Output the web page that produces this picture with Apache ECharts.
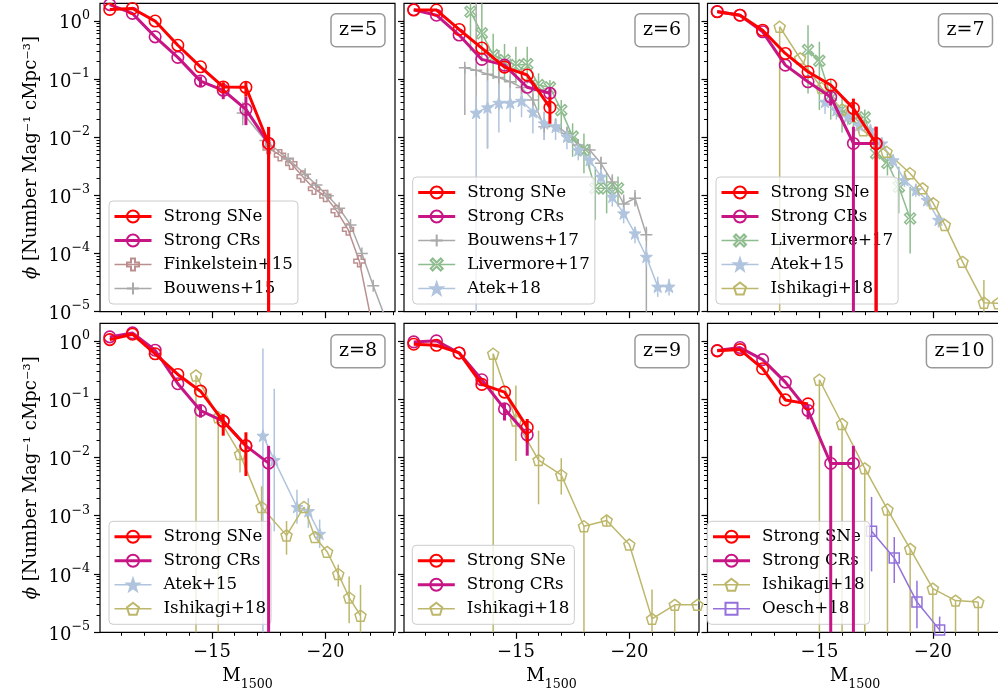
<!DOCTYPE html>
<html><head><meta charset="utf-8">
<script src="https://cdn.jsdelivr.net/npm/echarts@6/dist/echarts.min.js"></script>
<style>html,body{margin:0;padding:0;background:#fff}#c{width:998px;height:693px}</style>
</head><body><div id="c"></div>
<script>
// ---------------- DATA ----------------
// points: [M1500, phi]; errors: [M1500, low, high]
const xTickMajor = [-20, -15];
const xTickMinor = [-23, -22, -21, -19, -18, -17, -16, -14, -13, -12, -11];
const yDecades = [-5, -4, -3, -2, -1, 0];
const panelLabels = ['z=5', 'z=6', 'z=7', 'z=8', 'z=9', 'z=10'];

// z = 5
const z5_sne = [[-10.5,1.57],[-11.5,1.63],[-12.5,0.99],[-13.5,0.38],[-14.5,0.162],[-15.5,0.073],[-16.5,0.072],[-17.5,0.0078]];
const z5_sne_err = [[-15.5,0.058,0.088],[-16.5,0.05,0.09],[-17.5,1e-6,0.015]];
const z5_cr = [[-10.5,1.9],[-11.5,1.34],[-12.5,0.53],[-13.5,0.235],[-14.5,0.092],[-15.5,0.064],[-16.5,0.030],[-17.5,0.0078]];
const z5_cr_err = [[-14.5,0.075,0.11],[-15.5,0.045,0.085],[-16.5,0.0161,0.05],[-17.5,1e-6,0.015]];
const z5_fink15 = [[-17.5,0.0065],[-18.0,0.0049],[-18.5,0.0035],[-19.0,0.0021],[-19.5,0.0013],[-20.0,0.00097],[-20.5,0.00054],[-21.0,0.00026],[-21.5,7.4e-5],[-22.0,8e-6]];
const z5_bouw15 = [[-16.36,0.026],[-17.36,0.0088],[-18.36,0.0042],[-19.11,0.0023],[-19.61,0.0015],[-20.11,0.00098],[-20.61,0.0006],[-21.11,0.00031],[-21.61,0.0001],[-22.11,2.8e-5],[-22.61,8.5e-6]];
const z5_bouw15_err = [[-16.36,0.016,0.04]];

// z = 6
const z6_sne = [[-10.5,1.53],[-11.5,1.53],[-12.5,0.71],[-13.5,0.34],[-14.5,0.16],[-15.5,0.117],[-16.5,0.0325]];
const z6_sne_err = [[-16.5,0.017,0.049]];
const z6_cr = [[-10.5,1.55],[-11.5,1.25],[-12.5,0.57],[-13.5,0.217],[-14.5,0.173],[-15.5,0.072],[-16.5,0.057]];
const z6_cr_err = [[-16.5,0.045,0.072]];
const z6_bouw17 = [[-12.75,0.156],[-13.25,0.142],[-13.75,0.121],[-14.25,0.106],[-14.75,0.0895],[-15.25,0.0716],[-15.75,0.0434],[-16.25,0.0151],[-16.75,0.0161],[-17.25,0.0116],[-17.75,0.0073],[-18.25,0.006],[-18.75,0.00355],[-19.25,0.0017],[-19.75,0.00071],[-20.25,0.00089],[-20.75,0.00021]];
const z6_bouw17_err = [[-12.75,0.024,0.173],[-13.25,0.0256,3],[-13.75,0.0064,0.41],[-14.25,0.0292,0.314],[-14.75,0.0434,0.226],[-15.25,0.038,0.162],[-15.75,0.0256,0.0688],[-16.25,0.0089,0.0274],[-16.75,0.0124,0.021],[-17.25,0.0089,0.0151],[-17.75,0.0056,0.0089],[-18.25,0.0049,0.0074],[-18.75,0.00272,0.0046],[-19.25,0.00123,0.0023],[-19.75,0.000458,0.00103],[-20.25,0.00064,0.00123],[-20.75,1e-6,0.000289]];
const z6_liv17 = [[-13.0,1.43],[-13.5,0.61],[-14.0,0.257],[-14.5,0.211],[-15.0,0.173],[-15.5,0.18],[-16.0,0.0786],[-16.5,0.0716],[-17.0,0.0292],[-17.5,0.0102],[-18.0,0.006],[-18.5,0.00132],[-19.0,0.00132],[-19.5,0.00132]];
const z6_liv17_err = [[-13.0,0.3,3],[-13.5,0.2,3],[-14.0,0.1,0.6],[-14.5,0.09,0.4],[-15.0,0.084,0.36],[-15.5,0.084,0.36],[-16.0,0.0292,0.125],[-16.5,0.0434,0.0957],[-17.0,0.0116,0.0434],[-17.5,0.0046,0.0173],[-18.0,0.0024,0.0116],[-18.5,0.00038,0.0031],[-19.0,0.00049,0.0024],[-19.5,0.00064,0.0021]];
const z6_atek18 = [[-13.25,0.0263],[-13.75,0.0325],[-14.25,0.039],[-14.75,0.039],[-15.25,0.0422],[-15.75,0.0273],[-16.25,0.0173],[-16.75,0.0151],[-17.25,0.0102],[-17.75,0.006],[-18.25,0.00404],[-18.75,0.0021],[-19.25,0.00095],[-19.75,0.00049],[-20.25,0.000222],[-20.75,8.8e-5],[-21.25,2.7e-5],[-21.75,2.7e-5]];
const z6_atek18_err = [[-13.25,1e-6,0.0495],[-13.75,0.0064,0.0957],[-14.25,0.012,0.085],[-14.75,0.018,0.084],[-15.25,0.022,0.084],[-15.75,0.0116,0.0434],[-16.25,0.0089,0.0274],[-16.75,0.0089,0.021],[-17.25,0.0062,0.0151],[-17.75,0.004,0.0089],[-18.25,0.0027,0.0058],[-18.75,0.0015,0.003],[-19.25,0.00064,0.00135],[-19.75,0.00033,0.00064],[-20.25,0.00015,0.00029],[-20.75,6e-5,0.000131],[-21.25,1.8e-5,4e-5],[-21.75,1.9e-5,3.7e-5]];

// z = 7
const z7_sne = [[-10.5,1.43],[-11.5,1.25],[-12.5,0.69],[-13.5,0.275],[-14.5,0.133],[-15.5,0.0786],[-16.5,0.0313],[-17.5,0.0078]];
const z7_sne_err = [[-16.5,0.0184,0.046],[-17.5,1e-6,0.0151]];
const z7_cr = [[-10.5,1.45],[-11.5,1.25],[-12.5,0.647],[-13.5,0.173],[-14.5,0.0895],[-15.5,0.049],[-16.5,0.0078],[-17.5,0.0078]];
const z7_cr_err = [[-15.5,0.035,0.065],[-16.5,1e-6,0.0151],[-17.5,1e-6,0.0151]];
const z7_liv17 = [[-14.5,0.314],[-15.0,0.206],[-15.5,0.05],[-16.0,0.028],[-16.5,0.021],[-17.0,0.0219],[-17.5,0.0053],[-18.0,0.0036],[-18.5,0.0014],[-19.0,0.0004]];
const z7_liv17_err = [[-14.5,0.0565,0.84],[-15.0,0.0292,0.436],[-15.5,0.02,0.1],[-16.0,0.012,0.05],[-16.5,0.012,0.035],[-17.0,0.013,0.03],[-17.5,0.003,0.009],[-18.0,0.0022,0.0056],[-18.5,0.00049,0.0031],[-19.0,0.0001,0.00141]];
const z7_atek15 = [[-15.25,0.0406],[-15.75,0.0292],[-16.25,0.0224],[-16.75,0.0161],[-17.25,0.0132],[-17.75,0.0078],[-18.25,0.004],[-18.75,0.00183],[-19.25,0.00123],[-19.75,0.00083],[-20.25,0.00038]];
const z7_atek15_err = [[-15.25,0.025,0.055],[-15.75,0.02,0.04],[-16.25,0.016,0.03],[-16.75,0.012,0.021],[-17.25,0.01,0.017],[-17.75,0.006,0.01],[-18.25,0.0031,0.0051],[-18.75,0.0014,0.0024],[-19.25,0.00095,0.0016],[-19.75,0.00064,0.0011],[-20.25,0.00028,0.0005]];
const z7_ishi18 = [[-13.25,0.79],[-14.15,0.226],[-15.1,0.07],[-16.0,0.03],[-16.93,0.0132],[-17.96,0.0056],[-18.99,0.0024],[-19.55,0.00132],[-20.02,0.00073],[-20.53,0.00031],[-21.31,7.2e-5],[-22.25,1.43e-5],[-22.88,1.4e-5]];
const z7_ishi18_err = [[-13.25,1e-6,0.79],[-22.25,1e-6,3.5e-5]];

// z = 8
const z8_sne = [[-10.5,1.05],[-11.5,1.3],[-12.5,0.6],[-13.5,0.265],[-14.5,0.137],[-15.5,0.0418],[-16.5,0.0158]];
const z8_sne_err = [[-15.5,0.0236,0.056],[-16.5,0.0048,0.027]];
const z8_cr = [[-10.5,1.17],[-11.5,1.37],[-12.5,0.69],[-13.5,0.184],[-14.5,0.0637],[-15.5,0.042],[-16.5,0.0158],[-17.5,0.008]];
const z8_cr_err = [[-14.5,0.048,0.08],[-17.5,1e-6,0.0158]];
const z8_atek15 = [[-17.25,0.0236],[-17.75,0.009],[-18.75,0.00141],[-19.25,0.0012],[-19.75,0.00049]];
const z8_atek15_err = [[-17.25,1e-6,0.74],[-17.75,0.00054,0.15],[-18.75,0.00073,0.0028],[-19.25,0.00062,0.002],[-19.75,0.00028,0.00086]];
const z8_ishi18 = [[-14.3,0.255],[-15.28,0.049],[-16.24,0.0114],[-17.19,0.00141],[-18.29,0.00046],[-19.06,0.00141],[-19.54,0.00043],[-20.08,0.00024],[-20.57,0.0001],[-21.05,3.95e-5],[-21.55,1.93e-5]];
const z8_ishi18_err = [[-14.3,1e-6,0.255],[-15.28,1e-6,0.049],[-16.24,0.0055,0.0158],[-17.19,0.00054,0.0032],[-18.29,0.000215,0.00081],[-20.57,6.1e-5,0.000145],[-21.05,1.43e-5,9.1e-5],[-21.55,1e-6,6.5e-5]];

// z = 9
const z9_sne = [[-10.5,0.875],[-11.5,0.84],[-12.5,0.62],[-13.5,0.179],[-14.5,0.132],[-15.5,0.0329]];
const z9_sne_err = [[-15.5,0.018,0.0457]];
const z9_cr = [[-10.5,0.96],[-11.5,1.0],[-12.5,0.62],[-13.5,0.215],[-14.5,0.068],[-15.5,0.0245]];
const z9_cr_err = [[-14.5,0.043,0.083],[-15.5,0.0107,0.031]];
const z9_ishi18 = [[-14,0.6],[-15,0.043],[-16,0.009],[-17,0.005],[-18,0.00066],[-19,0.00083],[-20,0.00032],[-21,1.7e-5],[-22,2.96e-5],[-23,2.96e-5]];
const z9_ishi18_err = [[-14,1e-6,0.6],[-15,0.0087,0.172],[-16,0.00157,0.0288],[-17,0.0023,0.0097],[-18,1e-6,0.00066],[-19,0.00065,0.001],[-21,1e-6,5.4e-5],[-22,1e-6,2.96e-5]];

// z = 10
const z10_sne = [[-10.5,0.673],[-11.5,0.708],[-12.5,0.333],[-13.5,0.097],[-14.5,0.083]];
const z10_cr = [[-10.5,0.68],[-11.5,0.767],[-12.5,0.476],[-13.5,0.196],[-14.5,0.0637],[-15.5,0.00787],[-16.5,0.00787]];
const z10_cr_err = [[-14.5,0.045,0.08],[-15.5,1e-6,0.0158],[-16.5,1e-6,0.0158]];
const z10_ishi18 = [[-15,0.215],[-16,0.0375],[-17,0.0065],[-18,0.00128],[-19,0.00027],[-20,5.6e-5],[-21,3.5e-5],[-22,3.3e-5]];
const z10_ishi18_err = [[-15,1e-6,0.215],[-16,1e-6,0.0375],[-17,1e-6,0.0065],[-18,1e-6,0.00128],[-19,1e-6,0.00027],[-20,1e-6,5.6e-5],[-21,1e-6,3.5e-5],[-22,1e-6,3.3e-5]];
const z10_oesch18 = [[-17.3,0.00054],[-18.3,0.000189],[-19.3,3.3e-5],[-20.3,1.1e-5]];
const z10_oesch18_err = [[-17.3,0.000111,0.0021],[-18.3,7e-5,0.00043],[-19.3,1.17e-5,7.7e-5],[-20.3,1e-6,1.86e-5]];

// ---------------- STYLE / LAYOUT ----------------
const FONT = 'DejaVu Serif';
const XMIN = -23.07, XMAX = -10.07, YMIN = 1e-5, YMAX = 2;
const P_PLUS = 'path://M-1,-3L1,-3L1,-1L3,-1L3,1L1,1L1,3L-1,3L-1,1L-3,1L-3,-1L-1,-1Z';
const THIN_PLUS = 'path://M0,-1L0,1M-1,0L1,0';
const X_SHAPE = 'path://M-3,-2L-2,-3L0,-1L2,-3L3,-2L1,0L3,2L2,3L0,1L-2,3L-3,2L-1,0Z';
const STAR = 'path://M0,-10L2.35,-3.24L9.51,-3.09L3.8,1.24L5.88,8.09L0,4L-5.88,8.09L-3.8,1.24L-9.51,-3.09L-2.35,-3.24Z';
const PENT = 'path://M0,-10L9.51,-3.09L5.88,8.09L-5.88,8.09L-9.51,-3.09Z';
const STY = {
  'Strong SNe': {c:'#ff0000', lw:3, sym:'circle', size:11.5, fill:'none', bw:1.6, elw:3, z:5},
  'Strong CRs': {c:'#c71585', lw:3, sym:'circle', size:11.5, fill:'none', bw:1.6, elw:3, z:4},
  'Finkelstein+15': {c:'#bc8f8f', lw:1.5, sym:P_PLUS, size:11, fill:'none', bw:1.5, elw:1.5, z:2},
  'Bouwens+15': {c:'#a9a9a9', lw:1.5, sym:THIN_PLUS, size:12, fill:'none', bw:1.5, elw:1.5, z:2},
  'Bouwens+17': {c:'#a9a9a9', lw:1.5, sym:THIN_PLUS, size:12, fill:'none', bw:1.5, elw:1.5, z:2},
  'Livermore+17': {c:'#8fbc8f', lw:1.5, sym:X_SHAPE, size:11, fill:'none', bw:1.5, elw:1.5, z:2},
  'Atek+18': {c:'#b0c4de', lw:1.5, sym:STAR, size:12, fill:'#b0c4de', bw:1, elw:1.5, z:2},
  'Atek+15': {c:'#b0c4de', lw:1.5, sym:STAR, size:12, fill:'#b0c4de', bw:1, elw:1.5, z:2},
  'Ishikagi+18': {c:'#bdb76b', lw:1.5, sym:PENT, size:11, fill:'none', bw:1.5, elw:1.5, z:2},
  'Oesch+18': {c:'#9370db', lw:1.5, sym:'rect', size:10, fill:'none', bw:1.5, elw:1.5, z:2}
};
const PANELS = [
  {row:0, col:0, sets:[['Strong SNe',z5_sne,z5_sne_err],['Strong CRs',z5_cr,z5_cr_err],['Finkelstein+15',z5_fink15,null],['Bouwens+15',z5_bouw15,z5_bouw15_err]], lg:{left:109}},
  {row:0, col:1, sets:[['Strong SNe',z6_sne,z6_sne_err],['Strong CRs',z6_cr,z6_cr_err],['Bouwens+17',z6_bouw17,z6_bouw17_err],['Livermore+17',z6_liv17,z6_liv17_err],['Atek+18',z6_atek18,z6_atek18_err]], lg:{left:412.7}},
  {row:0, col:2, sets:[['Strong SNe',z7_sne,z7_sne_err],['Strong CRs',z7_cr,z7_cr_err],['Livermore+17',z7_liv17,z7_liv17_err],['Atek+15',z7_atek15,z7_atek15_err],['Ishikagi+18',z7_ishi18,z7_ishi18_err]], lg:{left:716}},
  {row:1, col:0, sets:[['Strong SNe',z8_sne,z8_sne_err],['Strong CRs',z8_cr,z8_cr_err],['Atek+15',z8_atek15,z8_atek15_err],['Ishikagi+18',z8_ishi18,z8_ishi18_err]], lg:{left:109}},
  {row:1, col:1, sets:[['Strong SNe',z9_sne,z9_sne_err],['Strong CRs',z9_cr,z9_cr_err],['Ishikagi+18',z9_ishi18,z9_ishi18_err]], lg:{left:412.3}},
  {row:1, col:2, sets:[['Strong SNe',z10_sne,null],['Strong CRs',z10_cr,z10_cr_err],['Ishikagi+18',z10_ishi18,z10_ishi18_err],['Oesch+18',z10_oesch18,z10_oesch18_err]], lg:{left:707.5}}
];
const COL_LEFT = [100, 404, 707.5], GW = 295;
const ROW_TOP = [3.3, 323.3], ROW_H = [308.4, 309];
const LEG_BOTTOM = [389, 68.7];
const TITLE_TOP = [13.3, 334.3];

const minorY = [];
for (let n = -5; n <= 0; n++) for (let k = 2; k <= 9; k++) { const v = Math.log10(k) + n; if (v < Math.log10(YMAX) - 1e-9) minorY.push(v); }

function fmtLog(v) {
  const l = Math.log10(v), e = Math.round(l);
  if (Math.abs(l - e) > 1e-6) return '';
  return '{b|10}{s|' + (e < 0 ? '\u2212' + (-e) : e) + '}';
}
function errRenderer(color, width) {
  return function (params, api) {
    const cs = params.coordSys;
    const x = api.value(0);
    const p1 = api.coord([x, api.value(1)]), p2 = api.coord([x, api.value(2)]);
    const yb = cs.y + cs.height, yt = cs.y;
    let y1 = Math.min(Math.max(p1[1], yt), yb), y2 = Math.min(Math.max(p2[1], yt), yb);
    return {type:'line', shape:{x1:p1[0], y1:y1, x2:p2[0], y2:y2}, style:{stroke:color, lineWidth:width}};
  };
}

const grid = [], xAxis = [], yAxis = [], series = [], legend = [], title = [];
PANELS.forEach((p, i) => {
  const bottomRow = p.row === 1, leftCol = p.col === 0;
  grid.push({left: COL_LEFT[p.col], top: ROW_TOP[p.row], width: GW, height: ROW_H[p.row], show: true,
    borderColor: '#000', borderWidth: 1.2, backgroundColor: 'rgba(0,0,0,0)', containLabel: false, outerBoundsMode: 'none'});
  xAxis.push({gridIndex: i, type: 'value', min: XMIN, max: XMAX, inverse: true, position: 'bottom',
    axisLine: {show: false, onZero: false}, splitLine: {show: false},
    axisTick: {show: true, customValues: xTickMajor, length: 6.5, lineStyle: {color: '#000', width: 1.2}},
    axisLabel: {show: bottomRow, customValues: xTickMajor, margin: 11, color: '#000', fontFamily: FONT, fontSize: 18,
      formatter: v => (v < 0 ? '\u2212' : '') + Math.abs(v)},
    name: bottomRow ? '{m|M}{sub|1500}' : '', nameLocation: 'middle', nameGap: 35, nameMoveOverlap: false,
    nameTextStyle: {color: '#000', fontFamily: FONT, fontSize: 18,
      rich: {m: {fontFamily: FONT, fontSize: 18, lineHeight: 24, verticalAlign: 'top', color: '#000'},
             sub: {fontFamily: FONT, fontSize: 12.6, lineHeight: 12, verticalAlign: 'bottom', color: '#000'}}}});
  xAxis.push({gridIndex: i, type: 'value', min: XMIN, max: XMAX, inverse: true, position: 'bottom',
    axisLine: {show: false, onZero: false}, splitLine: {show: false}, axisLabel: {show: false},
    axisTick: {show: true, customValues: xTickMinor, length: 3.5, lineStyle: {color: '#000', width: 1}}});
  yAxis.push({gridIndex: i, type: 'log', logBase: 10, min: YMIN, max: YMAX, position: 'left',
    axisLine: {show: false, onZero: false}, axisTick: {show: false}, splitLine: {show: false}, minorTick: {show: false},
    axisLabel: {show: leftCol, formatter: fmtLog, margin: 10, color: '#000',
      rich: {b: {fontFamily: FONT, fontSize: 18, lineHeight: 24, verticalAlign: 'bottom', color: '#000'},
             s: {fontFamily: FONT, fontSize: 12.6, lineHeight: 14, verticalAlign: 'top', color: '#000'}}},
    name: leftCol ? '{i|\u03d5} [Number Mag\u207b\u00b9 cMpc\u207b\u00b3]' : '', nameLocation: 'middle', nameGap: 60, nameMoveOverlap: false,
    nameTextStyle: {color: '#000', fontFamily: FONT, fontSize: 18, rich: {i: {fontFamily: FONT, fontSize: 18, fontStyle: 'italic', color: '#000'}}}});
  yAxis.push({gridIndex: i, type: 'value', min: -5, max: Math.log10(YMAX), position: 'left',
    axisLine: {show: false, onZero: false}, splitLine: {show: false}, axisLabel: {show: false},
    axisTick: {show: true, customValues: yDecades, length: 6, lineStyle: {color: '#000', width: 1.2}}});
  yAxis.push({gridIndex: i, type: 'value', min: -5, max: Math.log10(YMAX), position: 'left',
    axisLine: {show: false, onZero: false}, splitLine: {show: false}, axisLabel: {show: false},
    axisTick: {show: true, customValues: minorY, length: 3.5, lineStyle: {color: '#000', width: 1}}});

  const xi = 2 * i, yi = 3 * i;
  p.sets.forEach(([name, pts]) => {
    const s = STY[name];
    series.push({type: 'line', name: name, xAxisIndex: xi, yAxisIndex: yi, data: pts, symbol: s.sym, symbolSize: s.size,
      showSymbol: true, clip: true, z: s.z, animation: false, silent: true,
      lineStyle: {color: s.c, width: s.lw}, itemStyle: {color: s.fill, borderColor: s.c, borderWidth: s.bw},
      emphasis: {disabled: true}});
  });
  p.sets.forEach(([name, pts, err]) => {
    const s = STY[name];
    if (err) series.push({type: 'custom', name: name + ' errors', xAxisIndex: xi, yAxisIndex: yi, data: err,
      encode: {x: 0, y: [1, 2]}, renderItem: errRenderer(s.c, s.elw), z: s.z, silent: true, animation: false});
  });
  legend.push({data: p.sets.map(s => ({name: s[0], lineStyle: {color: STY[s[0]].c, width: STY[s[0]].lw}})),
    orient: 'vertical', left: p.lg.left, bottom: LEG_BOTTOM[p.row],
    itemWidth: 37, itemHeight: 15, itemGap: 7, padding: [7, 5, 7, 4], selectedMode: false,
    backgroundColor: 'rgba(255,255,255,0.8)', borderColor: '#cccccc', borderWidth: 1, borderRadius: 4,
    textStyle: {fontFamily: FONT, fontSize: 16.7, color: '#000', padding: [0, 0, 0, 7]}});
  const pr = COL_LEFT[p.col] + GW;
  title.push({text: panelLabels[i], right: 998 - (pr - 9.5), top: TITLE_TOP[p.row], padding: [7.5, 8.5],
    backgroundColor: '#fff', borderColor: '#999', borderWidth: 1.5, borderRadius: 5,
    textStyle: {fontFamily: FONT, fontSize: 19, fontWeight: 'normal', color: '#000'}});
});

const chart = echarts.init(document.getElementById('c'), null, {renderer: 'canvas'});
chart.setOption({animation: false, backgroundColor: '#fff', grid, xAxis, yAxis, series, legend, title});
</script></body></html>
